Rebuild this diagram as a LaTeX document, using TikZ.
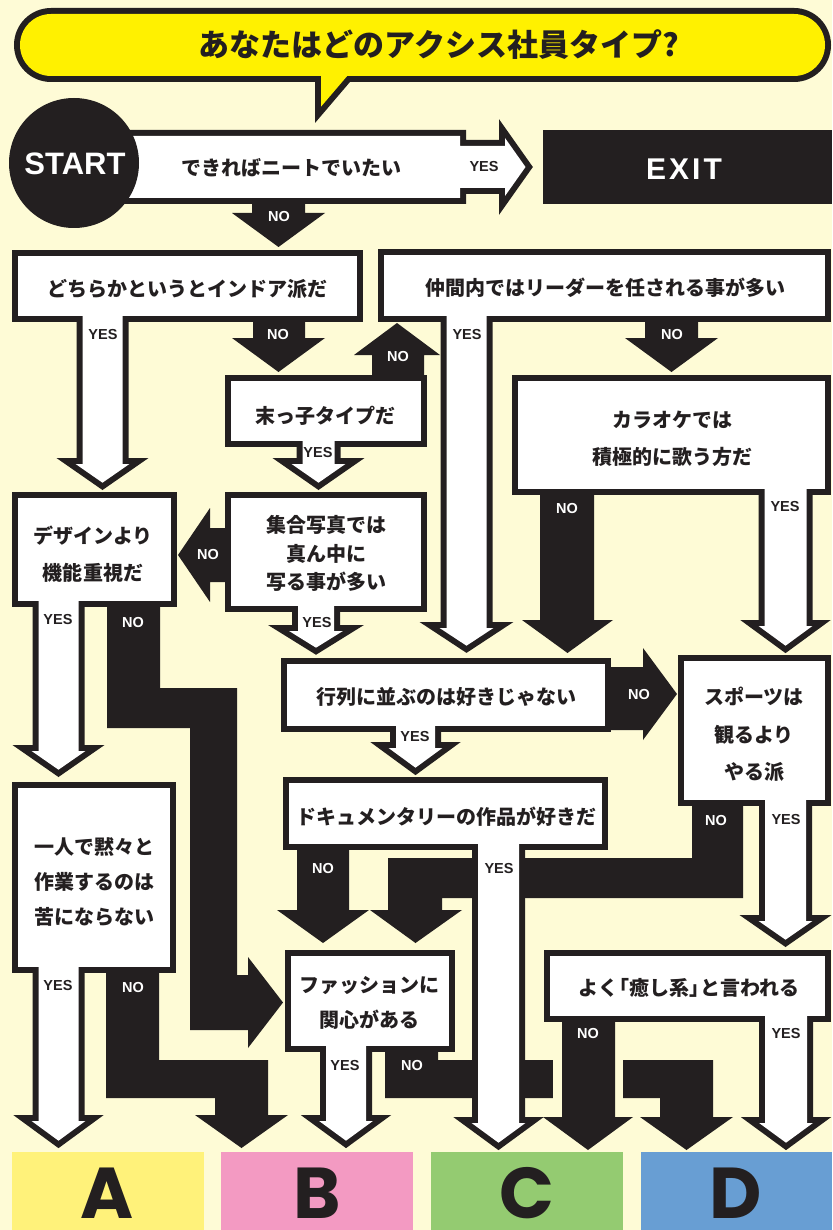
\documentclass[tikz,border=0pt]{standalone}
\usepackage{fontspec}
\newfontfamily\jpfont{Noto Sans CJK JP}
\newfontfamily\labfont{Liberation Sans}
\newfontfamily\exitfont{Liberation Sans}[LetterSpace=10]
\newfontfamily\resfont{Poppins}
\definecolor{bg}{HTML}{FEFBD6}
\definecolor{ink}{HTML}{231F20}
\definecolor{ttl}{HTML}{FFF100}
\definecolor{ca}{HTML}{FFF27A}
\definecolor{cb}{HTML}{F39AC2}
\definecolor{cc}{HTML}{94CB71}
\definecolor{cd}{HTML}{689ED3}
% white shapes: inner outlines, drawn twice (border pass, fill pass)
\newcommand\BX[4]{\path[cur] (#1,#2) rectangle (#3,#4);}
\newcommand\WD[5]{\path[cur] (#1-#5,#2) -- (#1-#5,#3+6) -- (#1-26.9,#3+6) -- (#1,#4-7.3) -- (#1+26.9,#3+6) -- (#1+#5,#3+6) -- (#1+#5,#2) -- cycle;}
\newcommand\whitelist{%
  \path[cur] (100,136) -- (460,136) -- (460,146) -- (505,146) -- (505,138) -- (525.5,167) -- (505,196) -- (505,188) -- (460,188) -- (460,198) -- (100,198) -- cycle;
  \BX{18}{256}{357}{316}
  \BX{384}{255}{825}{316}
  \BX{231}{381}{421}{441}
  \BX{518}{381}{825}{489}
  \BX{18}{498}{171}{601}
  \BX{231}{498}{421}{606}
  \BX{287}{664}{605}{726}
  \BX{684}{661}{825}{800}
  \BX{289}{783}{602}{844}
  \BX{18}{788}{170}{967}
  \BX{291}{956}{449}{1046}
  \BX{550}{956}{825}{1016}
  \WD{102.5}{310}{458}{490}{20}
  \WD{318.5}{435}{458}{490}{16}
  \WD{316}{600}{625}{655}{18}
  \WD{58.5}{595}{745}{777}{20}
  \WD{466.5}{310}{622}{653}{20}
  \WD{785.5}{482}{620}{653}{21}
  \WD{415.5}{720}{742}{775}{19.5}
  \WD{785.5}{794}{915}{947}{20.5}
  \WD{498.5}{838}{1117}{1150}{20.5}
  \WD{58.5}{961}{1115}{1148}{20}
  \WD{346}{1040}{1115}{1148}{20}
  \WD{786}{1010}{1117}{1150}{21}
}
\begin{document}
\begin{tikzpicture}[x=1pt,y=-1pt,
  bd/.style={draw=ink,line width=12pt,line join=miter},
  blk/.style={fill=ink},
  q/.style={font=\jpfont\bfseries\fontsize{20}{#1}\selectfont,align=center,inner sep=0pt,text=ink},
  q/.default=24,
  lb/.style={font=\labfont\bfseries\fontsize{14.5}{14.5}\selectfont,inner sep=0pt,text=ink},
  lw/.style={font=\labfont\bfseries\fontsize{14.5}{14.5}\selectfont,inner sep=0pt,text=white},
  res/.style={font=\resfont\bfseries\fontsize{72}{72}\selectfont,inner sep=0pt,text=ink}]
\useasboundingbox (0,0) rectangle (832,1230);
\fill[bg] (0,0) rectangle (832,1230);
% title bubble
\draw[bd,rounded corners=31] (20,14) rectangle (825,76);
\draw[bd] (321,70) -- (321,106.7) -- (352.3,70) -- cycle;
\fill[ttl,rounded corners=31] (20,14) rectangle (825,76);
\fill[ttl] (321,70) -- (321,106.7) -- (352.3,70) -- cycle;
% black bands
\fill[blk] (107,604) -- (160,604) -- (160,688) -- (237,688) -- (237,975) -- (248,975) -- (248,957) -- (283,1002.5) -- (248,1048) -- (248,1030) -- (190,1030) -- (190,728) -- (107,728) -- cycle;
\fill[blk] (106,970) -- (159,970) -- (159,1060) -- (268,1060) -- (268,1115) -- (288,1115) -- (241.5,1148) -- (195,1115) -- (215,1115) -- (215,1098) -- (106,1098) -- cycle;
\fill[blk] (692,803) -- (743,803) -- (743,898) -- (442,898) -- (442,910) -- (462,910) -- (415.5,943) -- (370,910) -- (388,910) -- (388,858) -- (692,858) -- cycle;
\fill[blk] (385,1049) -- (438,1049) -- (438,1060) -- (713,1060) -- (713,1117) -- (733,1117) -- (686.5,1150) -- (640,1117) -- (660,1117) -- (660,1098) -- (385,1098) -- cycle;
\fill[bg] (553,1056) rectangle (623,1102);
% black arrows
\fill[blk] (252,200) -- (305,200) -- (305,213) -- (325,213) -- (278.5,247) -- (232,213) -- (252,213) -- cycle;
\fill[blk] (253,319) -- (305,319) -- (305,338) -- (325,338) -- (278.5,372) -- (232,338) -- (253,338) -- cycle;
\fill[blk] (645,319) -- (698,319) -- (698,338) -- (718,338) -- (671.5,372) -- (625,338) -- (645,338) -- cycle;
\fill[blk] (540,492) -- (594,492) -- (594,620) -- (613,620) -- (567.5,653) -- (522,620) -- (540,620) -- cycle;
\fill[blk] (297,847) -- (349,847) -- (349,910) -- (369,910) -- (323,943) -- (277,910) -- (297,910) -- cycle;
\fill[blk] (562,1019) -- (615,1019) -- (615,1117) -- (633,1117) -- (588,1150) -- (543,1117) -- (562,1117) -- cycle;
\fill[blk] (372,378) -- (372,355) -- (354,355) -- (397,323) -- (440,355) -- (424,355) -- (424,378) -- cycle;
\fill[blk] (228,528) -- (210,528) -- (210,508) -- (178,555) -- (210,602) -- (210,582) -- (228,582) -- cycle;
\fill[blk] (608,667) -- (643,667) -- (643,648) -- (677,694) -- (643,740) -- (643,730) -- (608,730) -- cycle;
% exit
\fill[blk] (543,130) rectangle (832,204);
% white shapes
\tikzset{cur/.style={bd}}
\whitelist
\tikzset{cur/.style={fill=white}}
\whitelist
% start circle
\fill[blk] (74,163) circle[radius=65];
% results
\fill[ca] (12,1152) rectangle (204,1230);
\fill[cb] (221,1152) rectangle (413,1230);
\fill[cc] (431,1152) rectangle (623,1230);
\fill[cd] (641,1152) rectangle (832,1230);
\node[res] (rA) at (107,1193) {A};
\node[res] (rB) at (317,1193) {B};
\node[res] (rC) at (527,1193) {C};
\node[res] (rD) at (736,1193) {D};
% texts
\node[font=\jpfont\bfseries\fontsize{31}{31}\selectfont,text=ink,inner sep=0pt] (title) at (439,45) {あなたはどのアクシス社員タイプ?};
\node[font=\labfont\bfseries\fontsize{31}{31}\selectfont,text=white,inner sep=0pt] (start) at (75,164) {START};
\node[font=\exitfont\bfseries\fontsize{30}{30}\selectfont,text=white,inner sep=0pt] (exit) at (684,169) {EXIT};
\node[q] (q1) at (291,168) {できればニートでいたい};
\node[q] (q2) at (187,289) {どちらかというとインドア派だ};
\node[q] (q3) at (605,288) {仲間内ではリーダーを任される事が多い};
\node[q] (q4) at (325,416) {末っ子タイプだ};
\node[q=37] (q5) at (672,438.5) {カラオケでは\\積極的に歌う方だ};
\node[q=37] (q6) at (93,554.5) {デザインより\\機能重視だ};
\node[q=28.5] (q7) at (326,553.5) {集合写真では\\真ん中に\\写る事が多い};
\node[q] (q8) at (446,697) {行列に並ぶのは好きじゃない};
\node[q=37.5] (q9) at (754,734.5) {スポーツは\\観るより\\やる派};
\node[q] (q10) at (446,817) {ドキュメンタリーの作品が好きだ};
\node[q=35] (q11) at (94,882) {一人で黙々と\\作業するのは\\苦にならない};
\node[q=35] (q12) at (369,1002.5) {ファッションに\\関心がある};
\node[q] (q13) at (689,988) {よく\kern-9pt「癒し系」\kern-9pt と言われる};
% labels
\node[lw] (n1) at (279,217) {NO};
\node[lb] (y1) at (484,167) {YES};
\node[lb] (y2) at (103,335) {YES};
\node[lw] (n2) at (278,335) {NO};
\node[lw] (n3) at (398,357) {NO};
\node[lb] (y3) at (467,335) {YES};
\node[lw] (n4) at (672,335) {NO};
\node[lb] (y4) at (318,453) {YES};
\node[lw] (n5) at (208,555) {NO};
\node[lw] (n6) at (567,509) {NO};
\node[lb] (y5) at (785,507) {YES};
\node[lb] (y6) at (58,620) {YES};
\node[lw] (n7) at (133,623) {NO};
\node[lb] (y7) at (317,623) {YES};
\node[lw] (n8) at (639,695) {NO};
\node[lb] (y8) at (415,737) {YES};
\node[lw] (n9) at (716,820) {NO};
\node[lb] (y9) at (786,819) {YES};
\node[lw] (n10) at (323,868) {NO};
\node[lb] (y10) at (499,868) {YES};
\node[lb] (y11) at (58,985) {YES};
\node[lw] (n11) at (133,987) {NO};
\node[lb] (y12) at (345,1065) {YES};
\node[lw] (n12) at (412,1065) {NO};
\node[lw] (n13) at (588,1033) {NO};
\node[lb] (y13) at (786,1033) {YES};
\end{tikzpicture}
\end{document}
